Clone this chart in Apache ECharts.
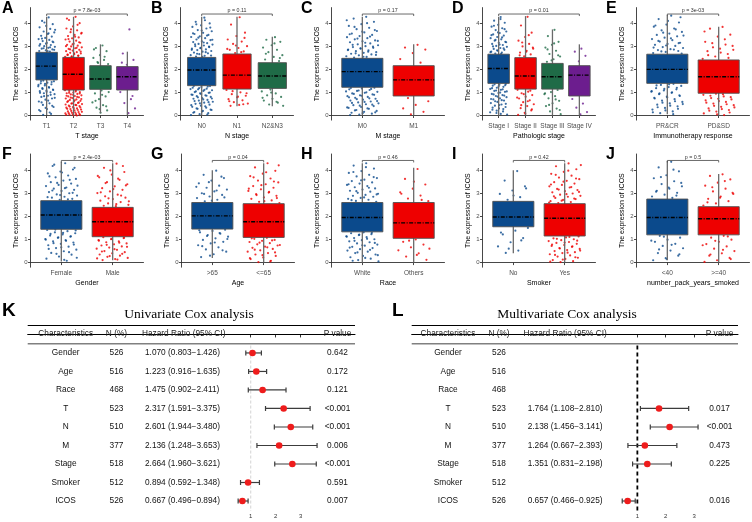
<!DOCTYPE html>
<html><head><meta charset="utf-8">
<script src="https://cdn.jsdelivr.net/npm/echarts@6/dist/echarts.min.js"></script>
<style>html,body{margin:0;padding:0;background:#fff}#c{width:752px;height:522px}</style>
</head><body><div id="c"></div>
<script>
// ---------------- DATA ----------------
const yTicks = [0,1,2,3,4];
// box stats: [min, q1, median, q3, max]
const A_cats = ["T1","T2","T3","T4"];
const A_box = [[0.02,1.55,2.15,2.75,4.3],[0,1.11,1.8,2.53,4.3],[0.1,1.14,1.59,2.17,3.1],[0,1.11,1.69,2.13,2.78]];
const A_pts = [
 [4.27,4.12,3.98,3.9,3.84,3.77,3.66,3.62,3.55,3.47,3.44,3.38,3.33,3.29,3.24,3.19,3.16,3.11,3.07,3.02,2.99,2.95,2.91,2.88,2.84,2.81,2.78,1.52,1.49,1.43,1.4,1.36,1.31,1.27,1.24,1.19,1.13,1.09,1.06,1.01,0.97,0.93,0.86,0.81,0.74,0.69,0.61,0.53,0.46,0.37,0.28,0.19,0.07,
  4.05,3.73,3.58,3.35,3.22,3.13,3.04,2.97,2.93,2.86,2.8,1.5,1.46,1.38,1.33,1.21,1.16,1.11,1.03,0.99,0.9,0.84,0.77,0.65,0.57,0.42,0.33,0.24,0.13,0.03],
 [4.3,4.16,4.02,3.88,3.79,3.71,3.63,3.57,3.51,3.46,3.4,3.36,3.31,3.26,3.22,3.17,3.13,3.08,3.04,3.01,2.97,2.93,2.9,2.86,2.83,2.8,2.76,2.73,2.7,2.67,2.64,2.61,2.58,2.56,1.09,1.07,1.02,1.0,0.97,0.94,0.92,0.88,0.85,0.83,0.79,0.76,0.74,0.7,0.68,0.64,0.61,0.59,0.55,0.52,0.5,0.46,0.43,0.41,0.37,0.34,0.31,0.28,0.26,0.22,0.18,0.15,0.12,0.09,0.06,0.04,0.02,0.01,
  4.22,3.95,3.75,3.6,3.43,3.33,3.19,3.1,3.02,2.95,2.88,2.78,2.71,2.65,2.6,2.55,1.1,1.05,0.99,0.96,0.9,0.86,0.81,0.78,0.72,0.66,0.63,0.57,0.53,0.48,0.45,0.39,0.35,0.32,0.29,0.24,0.2,0.16,0.13,0.1,0.07,0.05,0.03,0.0],
 [3.05,2.94,2.8,2.63,2.51,2.42,2.33,2.24,1.09,0.96,0.83,0.71,0.57,0.45,0.34,0.22,0.12,2.88,2.56,2.29,1.02,0.9,0.64,0.4,0.28],
 [3.75,2.7,2.42,2.21,1.02,0.71,0.54,0.31,0.1,2.3,0.85]];
const A_p = "p = 7.8e-03";

const B_cats = ["N0","N1","N2&N3"];
const B_box = [[0,1.3,1.98,2.53,4.3],[0.4,1.15,1.76,2.68,4.3],[0.4,1.18,1.72,2.3,3.43]];
const B_pts = [
 [4.26,4.08,4.01,3.93,3.86,3.79,3.72,3.67,3.6,3.55,3.51,3.45,3.42,3.37,3.31,3.28,3.23,3.2,3.15,3.12,3.09,3.05,3.02,2.98,2.95,2.91,2.88,2.85,2.81,2.78,2.74,2.71,2.67,2.63,2.6,2.57,1.28,1.24,1.21,1.17,1.14,1.1,1.07,1.02,0.99,0.96,0.91,0.88,0.84,0.81,0.76,0.73,0.68,0.65,0.6,0.56,0.51,0.47,0.43,0.38,0.34,0.29,0.24,0.2,0.15,0.1,0.06,0.02,
  4.15,3.97,3.83,3.7,3.58,3.48,3.39,3.3,3.18,3.1,3.0,2.93,2.86,2.76,2.69,2.61,2.55,1.29,1.26,1.19,1.15,1.12,1.05,1.0,0.94,0.9,0.86,0.79,0.74,0.7,0.63,0.58,0.53,0.45,0.4,0.31,0.26,0.17,0.12,0.04],
 [4.28,3.96,3.61,3.46,3.31,3.22,3.12,3.02,2.94,2.86,2.79,2.72,1.11,1.01,0.93,0.86,0.79,0.71,0.66,0.58,0.52,0.46,0.42,3.38,3.05,2.9,2.76,1.06,0.97,0.82,0.62,0.49],
 [3.41,3.3,3.21,3.06,2.96,2.86,2.76,2.63,2.55,2.44,2.37,1.13,1.05,0.96,0.88,0.81,0.73,0.65,0.56,0.48,0.42,3.14,2.69,2.5,1.0,0.77,0.6]];
const B_p = "p = 0.11";

const C_cats = ["M0","M1"];
const C_box = [[0,1.23,1.91,2.49,4.3],[0,0.85,1.55,2.17,3.1]];
const C_pts = [
 [4.3,4.22,4.08,3.98,3.9,3.82,3.76,3.68,3.62,3.57,3.51,3.46,3.41,3.37,3.32,3.27,3.23,3.19,3.14,3.1,3.06,3.02,2.98,2.95,2.91,2.87,2.84,2.8,2.76,2.73,2.69,2.66,2.62,2.58,2.55,2.52,1.21,1.18,1.14,1.11,1.07,1.03,0.99,0.96,0.92,0.88,0.84,0.81,0.77,0.73,0.69,0.65,0.61,0.57,0.53,0.49,0.45,0.41,0.37,0.33,0.29,0.24,0.2,0.16,0.12,0.08,0.04,
  4.15,4.02,3.86,3.72,3.65,3.54,3.44,3.35,3.25,3.17,3.08,3.0,2.93,2.85,2.78,2.71,2.64,2.56,1.2,1.16,1.09,1.05,1.01,0.94,0.9,0.86,0.79,0.75,0.71,0.63,0.59,0.55,0.47,0.43,0.35,0.31,0.22,0.14,0.1,0.02],
 [3.08,2.96,2.87,2.72,2.46,2.3,0.76,0.62,0.46,0.31,0.16,0.05]];
const C_p = "p = 0.17";

const D_cats = ["Stage I","Stage II","Stage III","Stage IV"];
const D_box = [[0,1.4,2.05,2.67,4.3],[0,1.15,1.72,2.52,4.33],[0,1.15,1.69,2.27,3.75],[0,0.85,1.76,2.17,3.1]];
const D_pts = [
 [4.29,4.13,4.04,3.95,3.87,3.8,3.72,3.66,3.59,3.53,3.48,3.42,3.37,3.32,3.26,3.21,3.17,3.12,3.07,3.03,2.99,2.94,2.9,2.86,2.82,2.78,2.74,2.7,1.38,1.34,1.3,1.25,1.21,1.16,1.12,1.07,1.03,0.98,0.94,0.89,0.85,0.8,0.75,0.7,0.65,0.59,0.54,0.48,0.43,0.37,0.31,0.25,0.18,0.11,0.04,
  4.2,3.91,3.76,3.62,3.5,3.4,3.29,3.19,3.09,3.01,2.92,2.84,2.76,2.69,1.36,1.32,1.27,1.19,1.14,1.09,1.05,1.0,0.92,0.87,0.82,0.72,0.67,0.62,0.51,0.45,0.34,0.28,0.21,0.14,0.07],
 [4.3,3.92,3.61,3.42,3.26,3.12,3.01,2.91,2.82,2.74,2.66,2.58,1.12,1.04,0.97,0.89,0.82,0.74,0.66,0.58,0.49,0.41,0.32,0.22,0.12,0.03,3.5,3.18,2.96,2.78,2.62,1.08,0.93,0.78,0.62,0.45,0.27,0.08],
 [3.73,3.46,3.21,3.08,2.96,2.82,2.68,2.57,2.45,2.34,1.11,1.02,0.93,0.84,0.75,0.64,0.53,0.41,0.3,0.18,0.06,3.14,2.88,2.62,2.4,0.97,0.7,0.46,0.24],
 [2.91,2.78,2.6,2.36,0.72,0.52,0.34,0.15,0.05]];
const D_p = "p = 0.01";

const E_cats = ["PR&CR","PD&SD"];
const E_box = [[0.05,1.4,2.01,2.67,4.37],[0,0.97,1.69,2.42,3.87]];
const E_pts = [
 [4.35,4.2,4.05,3.96,3.87,3.79,3.71,3.64,3.57,3.51,3.45,3.39,3.33,3.28,3.22,3.17,3.12,3.08,3.03,2.98,2.94,2.89,2.85,2.81,2.77,2.72,1.38,1.33,1.29,1.24,1.19,1.14,1.09,1.04,0.99,0.93,0.88,0.82,0.77,0.71,0.65,0.59,0.53,0.47,0.4,0.33,0.26,0.18,0.1,
  4.28,4.12,3.92,3.75,3.61,3.48,3.36,3.25,3.15,3.05,2.96,2.87,2.79,2.7,1.36,1.31,1.21,1.16,1.06,1.01,0.96,0.85,0.79,0.74,0.62,0.56,0.5,0.43,0.36,0.29,0.22,0.14,0.06],
 [3.86,3.78,3.52,3.44,3.21,3.09,2.97,2.86,2.74,2.63,2.51,0.95,0.9,0.83,0.76,0.7,0.63,0.56,0.49,0.42,0.35,0.28,0.21,0.13,0.05,
  3.66,3.32,3.15,3.03,2.91,2.8,2.68,2.57,2.47,0.93,0.86,0.8,0.73,0.66,0.59,0.52,0.45,0.38,0.31,0.24,0.17,0.09,0.02]];
const E_p = "p = 3e-03";

const F_cats = ["Female","Male"];
const F_box = [[0.05,1.44,2.06,2.68,4.36],[0.1,1.12,1.77,2.39,4.3]];
const F_pts = [
 [4.3,4.18,4.03,3.94,3.86,3.77,3.69,3.62,3.55,3.48,3.42,3.36,3.31,3.25,3.2,3.15,3.1,3.05,3.0,2.95,2.9,2.85,2.81,2.76,2.72,1.41,1.36,1.31,1.27,1.22,1.17,1.12,1.07,1.02,0.97,0.92,0.87,0.81,0.75,0.69,0.63,0.56,0.49,0.42,0.34,0.26,0.17,0.08,
  4.24,4.1,3.9,3.73,3.58,3.45,3.33,3.22,3.12,3.02,2.92,2.83,2.74,1.43,1.39,1.29,1.24,1.14,1.09,0.99,0.94,0.84,0.78,0.66,0.59,0.45,0.38,0.21,0.12],
 [4.28,4.1,3.92,3.81,3.69,3.58,3.48,3.39,3.3,3.22,3.15,3.08,3.01,2.94,2.87,2.81,2.75,2.68,2.62,2.56,2.5,2.44,1.1,1.06,1.01,0.97,0.92,0.88,0.83,0.79,0.74,0.7,0.65,0.6,0.55,0.5,0.45,0.4,0.35,0.3,0.25,0.2,0.15,0.11,
  4.18,3.99,3.75,3.63,3.44,3.34,3.18,3.04,2.9,2.78,2.65,2.53,2.46,1.08,1.03,0.95,0.86,0.77,0.68,0.58,0.48,0.38,0.28,0.18,0.13]];
const F_p = "p = 2.4e-03";

const G_cats = [">65","<=65"];
const G_box = [[0.2,1.45,2.02,2.6,4.0],[0,1.09,1.77,2.55,4.3]];
const G_pts = [
 [3.98,3.8,3.66,3.55,3.43,3.33,3.24,3.16,3.08,3.0,2.93,2.86,2.79,2.72,2.65,1.42,1.37,1.31,1.25,1.19,1.12,1.05,0.98,0.9,0.83,0.75,0.66,0.57,0.47,0.36,0.24,
  3.72,3.48,3.28,3.12,2.97,2.82,2.68,1.4,1.28,1.15,1.02,0.87,0.71,0.53,0.3],
 [4.3,4.12,3.97,3.85,3.74,3.64,3.55,3.47,3.39,3.31,3.24,3.17,3.1,3.03,2.96,2.89,2.82,2.76,2.69,2.63,2.58,1.07,1.03,0.98,0.94,0.89,0.84,0.79,0.74,0.69,0.64,0.59,0.53,0.47,0.41,0.35,0.29,0.22,0.15,0.08,0.02,
  4.21,3.91,3.69,3.51,3.35,3.2,3.06,2.92,2.79,2.66,1.05,0.96,0.86,0.76,0.66,0.56,0.44,0.32,0.19,0.05]];
const G_p = "p = 0.04";

const H_cats = ["White","Others"];
const H_box = [[0,1.33,1.95,2.6,4.3],[0,1.05,1.72,2.6,4.1]];
const H_pts = [
 [4.3,4.2,4.07,3.96,3.88,3.8,3.73,3.66,3.59,3.53,3.47,3.42,3.36,3.31,3.26,3.21,3.16,3.11,3.07,3.02,2.98,2.93,2.89,2.85,2.8,2.76,2.72,2.67,2.63,1.31,1.27,1.23,1.19,1.14,1.1,1.06,1.01,0.97,0.92,0.88,0.83,0.78,0.73,0.68,0.63,0.58,0.52,0.47,0.41,0.35,0.29,0.23,0.17,0.11,0.05,
  4.13,3.92,3.7,3.56,3.39,3.24,3.09,2.95,2.82,2.7,1.29,1.21,1.12,1.03,0.94,0.85,0.75,0.65,0.55,0.44,0.32,0.2,0.08],
 [4.05,3.62,3.38,3.2,3.04,2.9,2.77,2.66,1.0,0.9,0.78,0.66,0.53,0.4,0.26,0.12,3.5,2.98,2.71,0.95,0.6,0.33]];
const H_p = "p = 0.46";

const I_cats = ["No","Yes"];
const I_box = [[0.4,1.55,1.97,2.65,4.0],[0,1.15,1.92,2.55,4.3]];
const I_pts = [
 [3.96,3.55,3.3,3.12,2.97,2.83,2.72,1.5,1.38,1.22,1.06,0.88,0.7,0.52,0.42,3.21,2.9,1.3,0.96,0.6],
 [4.29,4.17,4.04,3.93,3.84,3.76,3.68,3.61,3.54,3.48,3.42,3.36,3.3,3.25,3.19,3.14,3.09,3.04,2.99,2.94,2.89,2.85,2.8,2.75,2.71,2.66,2.62,2.58,1.13,1.09,1.05,1.01,0.97,0.93,0.89,0.85,0.81,0.76,0.72,0.68,0.63,0.59,0.54,0.5,0.45,0.41,0.36,0.31,0.26,0.21,0.16,0.11,0.06,0.02,
  4.22,3.98,3.8,3.64,3.5,3.38,3.27,3.16,3.06,2.96,2.87,2.77,2.68,2.6,1.11,1.03,0.95,0.87,0.78,0.7,0.61,0.52,0.43,0.33,0.23,0.13,0.04]];
const I_p = "p = 0.42";

const J_cats = ["<40",">=40"];
const J_box = [[0.1,1.2,1.95,2.75,4.4],[0,1.2,1.9,2.42,3.83]];
const J_pts = [
 [4.36,4.12,3.95,3.78,3.65,3.52,3.4,3.3,3.2,3.11,3.02,2.94,2.86,2.8,1.16,1.08,0.99,0.9,0.81,0.72,0.62,0.52,0.41,0.3,0.19,0.1,
  4.02,3.7,3.45,3.25,3.07,2.9,1.12,0.95,0.77,0.57,0.36,0.15],
 [3.82,3.75,3.6,3.46,3.33,3.2,3.08,2.97,2.86,2.76,2.66,2.56,2.47,1.16,1.08,0.99,0.9,0.8,0.7,0.6,0.5,0.4,0.3,0.2,0.1,0.03,
  3.53,3.26,3.02,2.81,2.61,1.13,0.94,0.75,0.55,0.35,0.15]];
const J_p = "p = 0.5";

// Cox tables
const coxVars = ["Gender","Age","Race","T","N","M","Stage","Smoker","ICOS"];
const coxN = [526,516,468,523,510,377,518,512,526];
const uniHR = [1.070,1.223,1.475,2.317,2.601,2.136,2.664,0.894,0.667];
const uniLo = [0.803,0.916,0.902,1.591,1.944,1.248,1.960,0.592,0.496];
const uniHi = [1.426,1.635,2.411,3.375,3.480,3.653,3.621,1.348,0.894];
const uniP = ["0.642","0.172","0.121","<0.001","<0.001","0.006","<0.001","0.591","0.007"];
const multiHR = [null,null,null,1.764,2.138,1.264,1.351,null,0.657];
const multiLo = [null,null,null,1.108,1.456,0.667,0.831,null,0.466];
const multiHi = [null,null,null,2.810,3.141,2.393,2.198,null,0.925];
const multiP = ["","","","0.017","<0.001","0.473","0.225","","0.016"];
const forestTicks = [1,2,3];

// ---------------- LAYOUT / STYLE ----------------
const FONT = '"Liberation Sans", Arial, Helvetica, sans-serif';
const SERIF = '"Liberation Serif", "Times New Roman", serif';
const COLORS = ['#0B4A8C','#EE0000','#1F6B47','#6C1D8E'];
function font(sz, w){ return (w||'normal')+' '+sz+'px '+FONT; }

const panels = [
 {L:'A', cats:A_cats, box:A_box, pts:A_pts, p:A_p, name:'T stage', row:0, x:30.5, lx:2},
 {L:'B', cats:B_cats, box:B_box, pts:B_pts, p:B_p, name:'N stage', row:0, x:180.5, lx:151},
 {L:'C', cats:C_cats, box:C_box, pts:C_pts, p:C_p, name:'M stage', row:0, x:331.5, lx:301},
 {L:'D', cats:D_cats, box:D_box, pts:D_pts, p:D_p, name:'Pathologic stage', row:0, x:482.5, lx:452},
 {L:'E', cats:E_cats, box:E_box, pts:E_pts, p:E_p, name:'Immunotherapy response', row:0, x:636.5, lx:606},
 {L:'F', cats:F_cats, box:F_box, pts:F_pts, p:F_p, name:'Gender', row:1, x:30.5, lx:2},
 {L:'G', cats:G_cats, box:G_box, pts:G_pts, p:G_p, name:'Age', row:1, x:181.5, lx:151},
 {L:'H', cats:H_cats, box:H_box, pts:H_pts, p:H_p, name:'Race', row:1, x:331.5, lx:301},
 {L:'I', cats:I_cats, box:I_box, pts:I_pts, p:I_p, name:'Smoker', row:1, x:482.5, lx:452},
 {L:'J', cats:J_cats, box:J_box, pts:J_pts, p:J_p, name:'number_pack_years_smoked', row:1, x:636.5, lx:606}
];
const ROWS = [{top:7.6, h:112.5, ly:1}, {top:154, h:113.2, ly:147}];

const option = {animation:false, grid:[], xAxis:[], yAxis:[], series:[], title:[], graphic:[]};

function txt(x, y, s, f, fill, align, valign){
  return {type:'text', x:x, y:y, style:{text:s, font:f, fill:fill||'#000', align:align||'center', verticalAlign:valign||'middle', textAlign:align||'center', textVerticalAlign:valign||'middle'}};
}

panels.forEach((pn, i) => {
  const n = pn.cats.length, R = ROWS[pn.row];
  const idx = pn.cats.map((c,k)=>k+1);
  option.grid.push({left:pn.x, top:R.top, width:113, height:R.h});
  option.xAxis.push({gridIndex:i, type:'value', min:0.4, max:n+0.6, splitLine:{show:false},
    axisLine:{lineStyle:{color:'#333', width:0.9}},
    axisTick:{show:true, customValues:idx, length:2.5, lineStyle:{color:'#333', width:0.9}},
    axisLabel:{customValues:idx, formatter:v=>pn.cats[Math.round(v)-1], fontSize:6.5, fontFamily:FONT, color:'#4d4d4d', margin:3},
    name:pn.name, nameLocation:'middle', nameGap:12, nameTextStyle:{fontSize:7, fontFamily:FONT, color:'#000'}});
  option.yAxis.push({gridIndex:i, type:'value', min:-0.2, max:4.7, splitLine:{show:false},
    axisLine:{show:true, lineStyle:{color:'#333', width:0.9}},
    axisTick:{show:true, customValues:yTicks, length:2.5, lineStyle:{color:'#333', width:0.9}},
    axisLabel:{customValues:yTicks, fontSize:6, fontFamily:FONT, color:'#4d4d4d', margin:3},
    name:'The expression of ICOS', nameLocation:'middle', nameGap:11, nameTextStyle:{fontSize:7, fontFamily:FONT, color:'#000'}});
  pn.pts.forEach((vals, g) => {
    option.series.push({type:'scatter', xAxisIndex:i, yAxisIndex:i, silent:true, z:2, symbol:'circle', symbolSize:2.2,
      itemStyle:{color:COLORS[g]},
      data: vals.map((v,k)=>[g+1+((((k+1)*0.618034)%1)-0.5)*0.64, v])});
  });
  option.series.push({type:'custom', xAxisIndex:i, yAxisIndex:i, z:3, silent:true,
    data: pn.box.map((b,g)=>[g+1, b[4]]),
    renderItem:(params, api) => {
      const g = params.dataIndex, b = pn.box[g], x = g+1;
      const pt = api.coord([x, b[4]]), pb = api.coord([x, b[0]]);
      const tl = api.coord([x-0.4, b[3]]), br = api.coord([x+0.4, b[1]]);
      const m1 = api.coord([x-0.4, b[2]]), m2 = api.coord([x+0.4, b[2]]);
      return {type:'group', children:[
        {type:'line', shape:{x1:pt[0], y1:pt[1], x2:pb[0], y2:pb[1]}, style:{stroke:'#6a6a6a', lineWidth:1.3}},
        {type:'rect', shape:{x:tl[0], y:tl[1], width:br[0]-tl[0], height:br[1]-tl[1]}, style:{fill:COLORS[g], stroke:'#505050', lineWidth:0.9}},
        {type:'line', shape:{x1:m1[0], y1:m1[1], x2:m2[0], y2:m2[1]}, style:{stroke:'#000', lineWidth:1.4, lineDash:[4,1.5,1,1.5]}}
      ]};
    }});
  option.series.push({type:'custom', xAxisIndex:i, yAxisIndex:i, z:4, silent:true, data:[[1, 4.42]],
    renderItem:(params, api) => {
      const a = api.coord([1, 4.42]), b = api.coord([n, 4.42]);
      return {type:'group', children:[
        {type:'polyline', shape:{points:[[a[0],a[1]+2],[a[0],a[1]],[b[0],b[1]],[b[0],b[1]+2]]}, style:{stroke:'#444', lineWidth:0.8, fill:null}},
        txt((a[0]+b[0])/2, a[1]-0.8, pn.p, font(5.3), '#333', 'center', 'bottom')
      ]};
    }});
  option.title.push({text:pn.L, left:pn.lx, top:R.ly, padding:0, textStyle:{fontSize:16, fontWeight:'bold', fontFamily:FONT, color:'#000'}});
});

// ---------------- FOREST TABLES ----------------
const forests = [
  {L:'K', title:'Univariate Cox analysis', left:27.7, width:327.3, xmin:-7.92, xmax:5.17, lx:2, tx:189,
   cols:{ch:-6.4, n:-4.37, hr:-3.23, hrH:-3.35, p:4.47}, hr:uniHR, lo:uniLo, hi:uniHi, pv:uniP,
   ref:{stroke:'#c8c8c8', lineWidth:0.8, lineDash:[3,2]}},
  {L:'L', title:'Multivariate Cox analysis', left:411.7, width:326.3, xmin:-6.96, xmax:4.55, lx:392, tx:567,
   cols:{ch:-5.68, n:-3.88, hr:-2.87, hrH:-3.02, p:3.9}, hr:multiHR, lo:multiLo, hi:multiHi, pv:multiP,
   ref:{stroke:'#000', lineWidth:1.8, lineDash:[4,3]}}
];
const FT = 325, FH = 186, YMIN = -0.51, YMAX = 9.54;

forests.forEach((fo, j) => {
  const gi = panels.length + j;
  option.grid.push({left:fo.left, top:FT, width:fo.width, height:FH});
  option.xAxis.push({gridIndex:gi, type:'value', min:fo.xmin, max:fo.xmax, splitLine:{show:false},
    axisLine:{lineStyle:{color:'#000', width:1}},
    axisTick:{show:true, customValues:forestTicks, length:3, lineStyle:{color:'#000', width:0.8}},
    axisLabel:{customValues:forestTicks, fontSize:6, fontFamily:FONT, color:'#333', margin:2}});
  option.yAxis.push({gridIndex:gi, type:'value', min:YMIN, max:YMAX, inverse:true, show:false, splitLine:{show:false}});
  option.series.push({type:'custom', xAxisIndex:gi, yAxisIndex:gi, silent:true, z:2, data:[[0,0]],
    renderItem:(params, api) => {
      const cs = params.coordSys;
      const yh = api.coord([0, 0.5])[1];
      return {type:'group', children:[
        {type:'line', shape:{x1:cs.x, y1:cs.y+0.5, x2:cs.x+cs.width, y2:cs.y+0.5}, style:{stroke:'#000', lineWidth:1}},
        {type:'line', shape:{x1:cs.x, y1:yh, x2:cs.x+cs.width, y2:yh}, style:{stroke:'#808080', lineWidth:1.5}}
      ]};
    }});
  option.series.push({type:'custom', xAxisIndex:gi, yAxisIndex:gi, silent:true, z:2, data:[[1,0.6]],
    renderItem:(params, api) => {
      const a = api.coord([1, 0.6]), b = api.coord([1, YMAX]);
      return {type:'line', shape:{x1:a[0], y1:a[1], x2:b[0], y2:b[1]}, style:fo.ref};
    }});
  const ciRows = [];
  fo.hr.forEach((h,k)=>{ if (h !== null) ciRows.push(k); });
  option.series.push({type:'custom', xAxisIndex:gi, yAxisIndex:gi, silent:true, z:3,
    data: ciRows.map(k=>[fo.hr[k], k+1]),
    renderItem:(params, api) => {
      const k = ciRows[params.dataIndex];
      const pl = api.coord([fo.lo[k], k+1]), ph = api.coord([fo.hi[k], k+1]), pc = api.coord([fo.hr[k], k+1]);
      return {type:'group', children:[
        {type:'line', shape:{x1:pl[0], y1:pl[1], x2:ph[0], y2:ph[1]}, style:{stroke:'#3c3c3c', lineWidth:1.2}},
        {type:'line', shape:{x1:pl[0], y1:pl[1]-2.5, x2:pl[0], y2:pl[1]+2.5}, style:{stroke:'#3c3c3c', lineWidth:1.2}},
        {type:'line', shape:{x1:ph[0], y1:ph[1]-2.5, x2:ph[0], y2:ph[1]+2.5}, style:{stroke:'#3c3c3c', lineWidth:1.2}},
        {type:'circle', shape:{cx:pc[0], cy:pc[1], r:3.3}, style:{fill:'#EE1C1C'}}
      ]};
    }});
  const items = [];
  items.push([fo.cols.ch, 0, 'Characteristics', 'center']);
  items.push([fo.cols.n, 0, 'N (%)', 'center']);
  items.push([fo.cols.hrH, 0, 'Hazard Ratio (95% CI)', 'left']);
  items.push([fo.cols.p, 0, 'P value', 'center']);
  coxVars.forEach((v,k) => {
    items.push([fo.cols.ch, k+1, v, 'center']);
    items.push([fo.cols.n, k+1, String(coxN[k]), 'center']);
    if (fo.hr[k] !== null) items.push([fo.cols.hr, k+1, fo.hr[k].toFixed(3)+' ('+fo.lo[k].toFixed(3)+'\u2212'+fo.hi[k].toFixed(3)+')', 'left']);
    if (fo.pv[k]) items.push([fo.cols.p, k+1, fo.pv[k], 'center']);
  });
  option.series.push({type:'custom', xAxisIndex:gi, yAxisIndex:gi, silent:true, z:4,
    data: items.map(d=>[d[0], d[1]]),
    renderItem:(params, api) => {
      const d = items[params.dataIndex];
      const p = api.coord([d[0], d[1] === 0 ? -0.06 : d[1]]);
      return txt(p[0], p[1], d[2], font(8.3), d[1]===0 ? '#222' : '#111', d[3], 'middle');
    }});
  option.title.push({text:fo.L, left:fo.lx, top:301, padding:0, textStyle:{fontSize:19, fontWeight:'bold', fontFamily:FONT, color:'#000'}});
  option.graphic.push(txt(fo.tx, 314, fo.title, 'normal 13.5px '+SERIF, '#000', 'center', 'middle'));
});

const chart = echarts.init(document.getElementById('c'), null, {renderer:'canvas'});
chart.setOption(option);
</script>
</body></html>
